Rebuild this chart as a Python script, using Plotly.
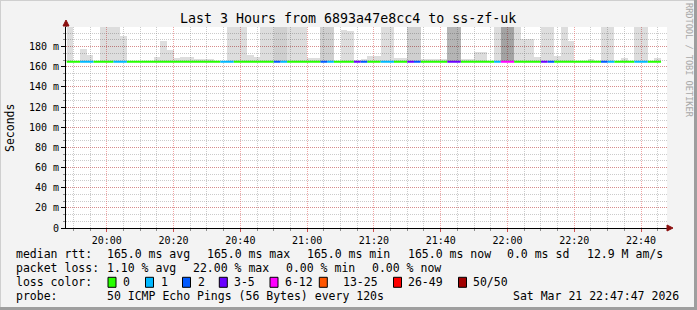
import pandas as pd
import plotly.graph_objects as go

FIG_W, FIG_H = 697, 310

# ---------------- data ----------------
bin_start = "2026-03-21 19:48:00"
bin_minutes = 2
window_start = "2026-03-21 19:47:47"
window_end = "2026-03-21 22:47:47"

median_ms = [
    165, 165, 165, 165, 165, 165, 165, 165, 165, 165,
    165, 165, 165, 165, 165, 165, 165, 165, 165, 165,
    165, 165, 165, 165, 165, 165, 165, 165, 165, 165,
    165, 165, 165, 165, 165, 165, 165, 165, 165, 165,
    165, 165, 165, 165, 165, 165, 165, 165, 165, 165,
    165, 165, 165, 165, 165, 165, 165, 165, 165, 165,
    165, 165, 165, 165, 165, 165, 165, 165, 165, 165,
    165, 165, 165, 165, 165, 165, 165, 165, 165, 165,
    165, 165, 165, 165, 165, 165, 165, 165, 165,
]

# upper edge of the smoke per interval (ms); None = no visible smoke
smoke_top_ms = [
    200, None, 178, 172, None, 200, 200, 200, 191, None,
    None, None, None, 170, 186, 177, 169, 170, 170, 168,
    168, 168, None, None, 200, 200, 200, 172, 170, 200,
    200, 200, 200, 200, 200, 200, 169, 169, 200, 200,
    None, 197, 196, 167, 168, 171, 171, 200, 200, 169,
    169, 200, 200, 168, 168, 168, 168, 200, 200, 168,
    168, 175, 175, None, 200, 200, 200, 200, 188, 188,
    170, 200, 200, 171, 200, 186, None, None, 168, None,
    200, 200, None, 169, None, 200, 200, None, 169,
]

# smoke density (1 light .. 4 darkest)
smoke_density = [
    1, 0, 1, 1, 0, 1, 1, 1, 1, 0,
    0, 0, 0, 1, 1, 1, 1, 1, 1, 1,
    1, 1, 0, 0, 1, 1, 1, 1, 1, 1,
    1, 2, 2, 1, 1, 1, 1, 1, 2, 2,
    0, 1, 1, 1, 1, 1, 1, 1, 1, 1,
    1, 2, 2, 1, 1, 1, 1, 3, 3, 1,
    1, 1, 1, 0, 1, 4, 4, 1, 1, 1,
    1, 1, 1, 1, 1, 1, 0, 0, 1, 0,
    1, 1, 0, 1, 0, 1, 1, 0, 1,
]

# lost pings (of 50) per interval
loss_pings = [
    0, 0, 1, 1, 0, 0, 0, 1, 1, 0,
    0, 0, 0, 0, 0, 0, 0, 0, 0, 0,
    0, 0, 0, 1, 1, 0, 0, 0, 0, 0,
    0, 2, 1, 0, 0, 0, 0, 0, 2, 1,
    0, 0, 0, 4, 2, 0, 0, 1, 1, 0,
    0, 4, 2, 0, 0, 0, 0, 4, 4, 0,
    0, 0, 0, 0, 1, 11, 7, 0, 0, 0,
    0, 4, 2, 0, 0, 0, 0, 0, 0, 0,
    2, 1, 0, 0, 0, 1, 1, 0, 0,
]

y_tick_vals = [0, 20, 40, 60, 80, 100, 120, 140, 160, 180]
y_tick_text = ["0", "20 m", "40 m", "60 m", "80 m", "100 m", "120 m", "140 m", "160 m", "180 m"]

loss_labels = ["0", "1", "2", "3-5", "6-12", "13-25", "26-49", "50/50"]
loss_upper = [0, 1, 2, 5, 12, 25, 49, 50]
loss_colors = ["#26ff00", "#00b8ff", "#0059ff", "#6a00ff", "#ff00ff", "#ff5500", "#ff0000", "#a10000"]

density_alpha = {1: 0.135, 2: 0.19, 3: 0.29, 4: 0.36}

title_text = "Last 3 Hours from 6893a47e8cc4 to ss-zf-uk"
legend_rows = [
    [(16, "median rtt:"), (107.3, "165.0 ms avg"), (207.3, "165.0 ms max"),
     (306.7, "165.0 ms min"), (407.7, "165.0 ms now"), (507.3, "0.0 ms sd"),
     (586.7, "12.9 M am/s")],
    [(16, "packet loss:"), (107.3, "1.10 % avg"), (193.3, "22.00 % max"),
     (286, "0.00 % min"), (372.3, "0.00 % now")],
    [(16, "loss color:")],
    [(16, "probe:"), (107.3, "50 ICMP Echo Pings (56 Bytes) every 120s"),
     (513.3, "Sat Mar 21 22:47:47 2026")],
]
legend_row_y = [254.3, 268.3, 282.3, 296.0]
loss_box_x = [108, 145.5, 182.5, 219.3, 270, 319.3, 393.5, 458.5]
loss_text_x = [123, 161, 197.7, 234.3, 285, 342.7, 408.3, 473.3]

# ---------------- helpers ----------------
def fx(px):
    return px / FIG_W

def fy(py):
    return 1 - py / FIG_H

def loss_color(n):
    for up, c in zip(loss_upper, loss_colors):
        if n <= up:
            return c
    return loss_colors[-1]

n = len(median_ms)
starts = pd.date_range(bin_start, periods=n, freq=f"{bin_minutes}min")
step = pd.Timedelta(minutes=bin_minutes)
centers = starts + step / 2
ends = starts + step

fig = go.Figure()

# smoke
bar_y, bar_base, bar_col = [], [], []
for i in range(n):
    top = smoke_top_ms[i]
    if top is None:
        bar_y.append(None)
    else:
        bar_y.append(top - median_ms[i])
    bar_base.append(median_ms[i])
    a = density_alpha.get(smoke_density[i], 0.135)
    bar_col.append(f"rgba(0,0,0,{a})")

fig.add_trace(go.Bar(
    x=centers, y=bar_y, base=bar_base,
    width=bin_minutes * 60 * 1000,
    marker=dict(color=bar_col, line=dict(width=0)),
    hoverinfo="skip", showlegend=False,
))

# median line coloured by loss
runs = []
for i in range(n):
    c = loss_color(loss_pings[i])
    if runs and runs[-1][0] == c and runs[-1][2] == i:
        runs[-1][2] = i + 1
    else:
        runs.append([c, i, i + 1])

for c in loss_colors:
    xs, ys = [], []
    for rc, a, b in runs:
        if rc != c:
            continue
        xs += [starts[a], ends[b - 1], None]
        ys += [median_ms[a], median_ms[b - 1], None]
    if xs:
        fig.add_trace(go.Scatter(
            x=xs, y=ys, mode="lines",
            line=dict(color=c, width=2),
            hoverinfo="skip", showlegend=False,
        ))

font_mono = "DejaVu Sans Mono"
major_grid = "rgba(225,90,90,0.55)"
minor_grid = "rgba(140,140,140,0.45)"

fig.update_layout(
    width=FIG_W, height=FIG_H,
    template="none",
    margin=dict(l=0, r=0, t=0, b=0, pad=0),
    paper_bgcolor="#f3f3f3",
    plot_bgcolor="#ffffff",
    showlegend=False,
    bargap=0,
    font=dict(family=font_mono, size=10, color="#000000"),
    xaxis=dict(
        type="date",
        domain=[fx(66), fx(667)],
        range=[window_start, window_end],
        tick0="2026-03-21 20:00:00", dtick=20 * 60 * 1000,
        tickformat="%H:%M",
        showgrid=True, gridcolor=major_grid, griddash="1px,1px", gridwidth=1,
        showline=True, linecolor="#000000", linewidth=1,
        ticks="outside", ticklen=3, tickcolor="#d05050",
        tickfont=dict(family=font_mono, size=10),
        zeroline=False, automargin=False, fixedrange=True,
        minor=dict(dtick=5 * 60 * 1000, tick0="2026-03-21 20:00:00",
                   showgrid=True, gridcolor=minor_grid, griddash="1px,1px",
                   gridwidth=1, ticks="outside", ticklen=2, tickcolor="#909090"),
    ),
    yaxis=dict(
        domain=[fy(228), fy(27)],
        range=[0, 199.5],
        tickmode="array", tickvals=y_tick_vals, ticktext=y_tick_text,
        showgrid=True, gridcolor=major_grid, griddash="1px,1px", gridwidth=1,
        showline=True, linecolor="#000000", linewidth=1,
        ticks="outside", ticklen=4, tickcolor="#000000",
        tickfont=dict(family=font_mono, size=10),
        zeroline=False, automargin=False, fixedrange=True,
        minor=dict(tickmode="linear", tick0=0, dtick=20 / 3,
                   showgrid=True, gridcolor=minor_grid, griddash="1px,1px",
                   gridwidth=1, ticks="outside", ticklen=2, tickcolor="#909090"),
    ),
)

annotations = []
shapes = []

annotations.append(dict(
    x=fx(348), y=fy(19), xref="paper", yref="paper", text=title_text,
    showarrow=False, xanchor="center", yanchor="middle",
    font=dict(family=font_mono, size=13.3, color="#000000"),
))
annotations.append(dict(
    x=fx(10), y=fy(128), xref="paper", yref="paper", text="Seconds",
    showarrow=False, textangle=-90, xanchor="center", yanchor="middle",
    font=dict(family=font_mono, size=11.5, color="#000000"),
))
annotations.append(dict(
    x=fx(689), y=fy(60), xref="paper", yref="paper", text="RRDTOOL / TOBI OETIKER",
    showarrow=False, textangle=90, xanchor="center", yanchor="middle",
    font=dict(family=font_mono, size=8.6, color="#a8a8a8"),
))

for row, yy in zip(legend_rows, legend_row_y):
    for xx, txt in row:
        annotations.append(dict(
            x=fx(xx - 1), y=fy(yy), xref="paper", yref="paper", text=txt,
            showarrow=False, xanchor="left", yanchor="middle", borderpad=0,
            font=dict(family=font_mono, size=11.5, color="#000000"),
        ))

ly = legend_row_y[2]
for bx, tx, lab, col in zip(loss_box_x, loss_text_x, loss_labels, loss_colors):
    shapes.append(dict(
        type="rect", xref="paper", yref="paper",
        x0=fx(bx), x1=fx(bx + 8), y0=fy(ly + 5), y1=fy(ly - 5),
        fillcolor=col, line=dict(color="#000000", width=1),
    ))
    annotations.append(dict(
        x=fx(tx - 1), y=fy(ly), xref="paper", yref="paper", text=lab,
        showarrow=False, xanchor="left", yanchor="middle", borderpad=0,
        font=dict(family=font_mono, size=11.5, color="#000000"),
    ))

# axis extensions + arrows
shapes.append(dict(type="line", xref="paper", yref="paper",
                   x0=fx(66), x1=fx(66), y0=fy(27), y1=fy(23),
                   line=dict(color="#000000", width=1)))
shapes.append(dict(type="path", xref="paper", yref="paper",
                   path=f"M {fx(66)},{fy(20)} L {fx(63)},{fy(26)} L {fx(69)},{fy(26)} Z",
                   fillcolor="#8b1010", line=dict(color="#8b1010", width=1)))
shapes.append(dict(type="line", xref="paper", yref="paper",
                   x0=fx(667), x1=fx(668), y0=fy(228), y1=fy(228),
                   line=dict(color="#000000", width=1)))
shapes.append(dict(type="path", xref="paper", yref="paper",
                   path=f"M {fx(673)},{fy(228)} L {fx(667)},{fy(225)} L {fx(667)},{fy(231)} Z",
                   fillcolor="#8b1010", line=dict(color="#8b1010", width=1)))

# frame
shapes.append(dict(type="line", xref="paper", yref="paper", x0=0, x1=1, y0=fy(0.5), y1=fy(0.5),
                   line=dict(color="#cfcfcf", width=1)))
shapes.append(dict(type="line", xref="paper", yref="paper", x0=fx(0.5), x1=fx(0.5), y0=0, y1=1,
                   line=dict(color="#cfcfcf", width=1)))
shapes.append(dict(type="line", xref="paper", yref="paper", x0=0, x1=1, y0=fy(308.5), y1=fy(308.5),
                   line=dict(color="#9e9e9e", width=3)))
shapes.append(dict(type="line", xref="paper", yref="paper", x0=fx(695.5), x1=fx(695.5), y0=0, y1=1,
                   line=dict(color="#9e9e9e", width=3)))

fig.update_layout(annotations=annotations, shapes=shapes)

fig.write_html("out.html", config={"displayModeBar": False})
